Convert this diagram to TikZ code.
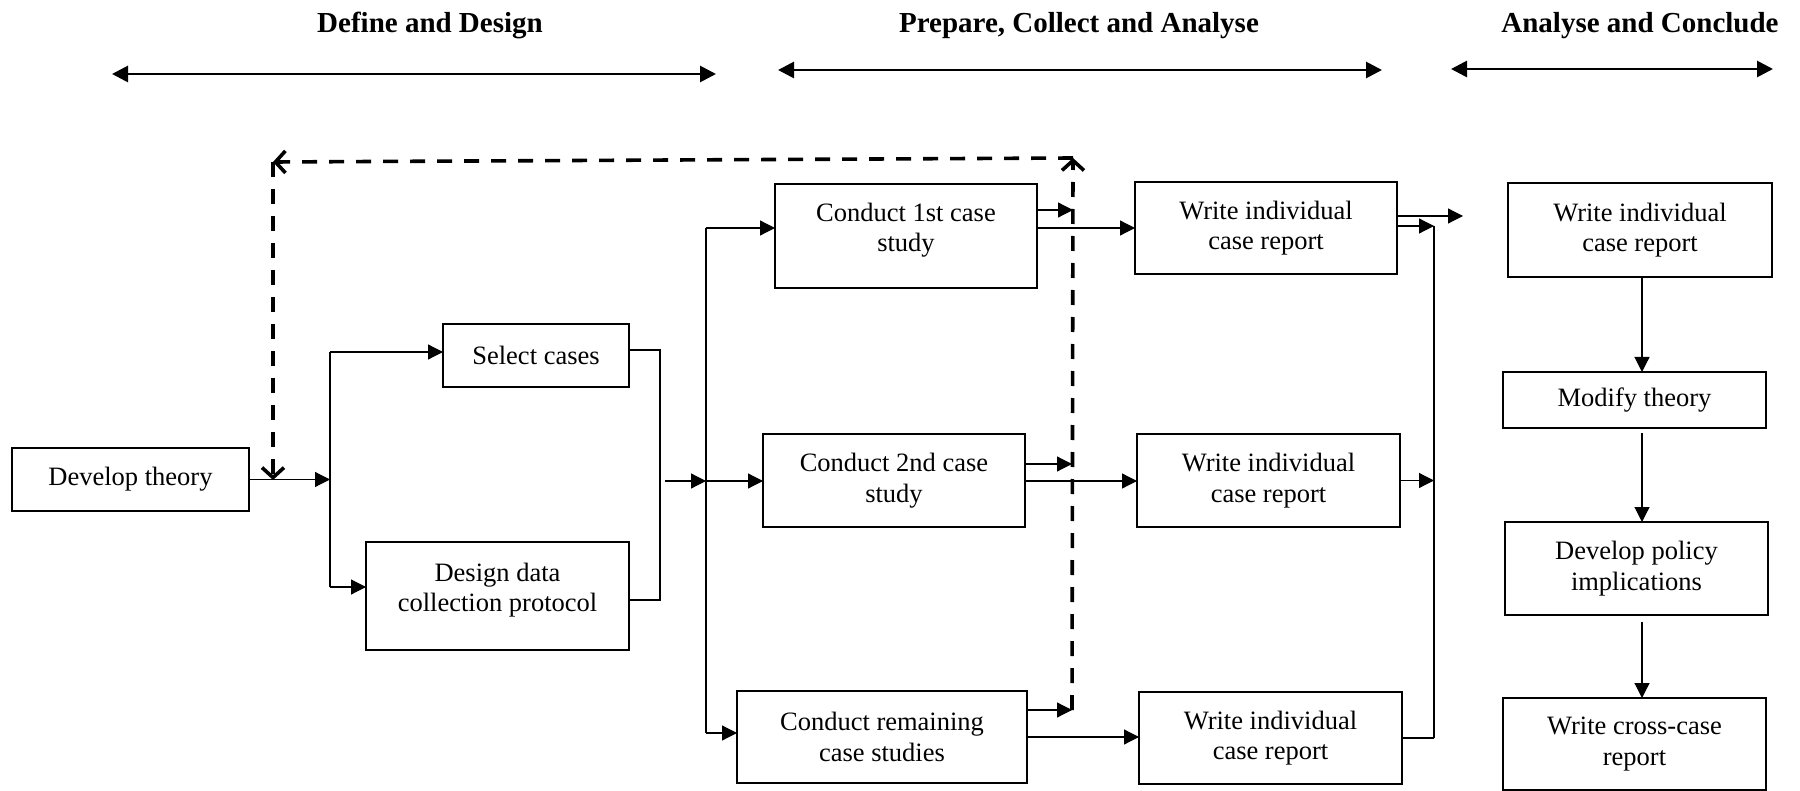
\documentclass[tikz,border=0pt]{standalone}
\usepackage{fontspec}
\setmainfont{Liberation Serif}
\usetikzlibrary{arrows.meta,calc}
\begin{document}
\begin{tikzpicture}[x=0.5pt,y=-0.5pt,
  box/.style={draw, line width=0.75pt, inner sep=0pt, outer sep=0pt,
    align=center, font=\fontsize{13.25}{15.3}\selectfont},
  lbl/.style={inner sep=0pt, align=center, font=\fontsize{13.25}{15.3}\selectfont},
  conn/.style={line width=0.6pt},
  arr/.style={conn, -{Triangle[length=7.5pt,width=7.5pt]}},
  phase/.style={line width=1.4pt,
    {Triangle[length=8pt,width=8pt]}-{Triangle[length=8pt,width=8pt]}},
  loopline/.style={line width=1.8pt, dash pattern=on 7.5pt off 6pt,
    -{Straight Barb[length=5pt,width=11pt]}},
  title/.style={font=\fontsize{14.5}{17}\selectfont\bfseries, inner sep=0pt, anchor=base}
]
\useasboundingbox (0,0) rectangle (1800,791);

% phase headings and their spans
\node[title] (tDefine) at (430,33) {Define and Design};
\node[title] (tPrepare) at (1079,33) {Prepare, Collect and Analyse};
\node[title] (tConclude) at (1640,33) {Analyse and Conclude};
\coordinate (pA1) at (112,74);  \coordinate (pA2) at (716,74);
\coordinate (pB1) at (778,70);  \coordinate (pB2) at (1382,70);
\coordinate (pC1) at (1451,69); \coordinate (pC2) at (1773,69);
\draw[phase] (pA1) -- (pA2);
\draw[phase] (pB1) -- (pB2);
\draw[phase] (pC1) -- (pC2);

% define and design
\node[box, minimum width=118.5pt, minimum height=31.5pt] (dev) at (130.5,479.5) {Develop theory};
\node[box, minimum width=93pt, minimum height=31.5pt] (sel) at (536,355.5) {Select cases};
\node[box, minimum width=131.5pt, minimum height=54pt] (des) at (497.5,596) {};
\node[lbl] (desT) at ([yshift=3pt]des.center) {Design data\\collection protocol};

% case studies
\node[box, minimum width=131pt, minimum height=52pt] (c1) at (906,236) {};
\node[lbl] (c1T) at ([yshift=3pt]c1.center) {Conduct 1st case\\study};
\node[box, minimum width=131pt, minimum height=46.5pt] (c2) at (894,480.5) {Conduct 2nd case\\study};
\node[box, minimum width=145pt, minimum height=46pt] (cr) at (882,737) {Conduct remaining\\case studies};

% individual reports
\node[box, minimum width=131pt, minimum height=46pt] (w1) at (1266,228) {Write individual\\case report};
\node[box, minimum width=131.5pt, minimum height=46.5pt] (w2) at (1268.5,480.5) {Write individual\\case report};
\node[box, minimum width=131.5pt, minimum height=46pt] (w3) at (1270.5,738) {Write individual\\case report};

% conclusion column
\node[box, minimum width=132pt, minimum height=47pt] (rw) at (1640,230) {Write individual\\case report};
\node[box, minimum width=131.5pt, minimum height=28pt] (mt) at (1634.5,400) {Modify theory};
\node[box, minimum width=131.5pt, minimum height=46.5pt] (dp) at (1636.5,568.5) {Develop policy\\implications};
\node[box, minimum width=131.5pt, minimum height=46pt] (cc) at (1634.5,744) {Write cross-case\\report};

% develop theory splits into case selection and protocol design
\coordinate (j1) at (330,480);
\coordinate (j1t) at (330,352);
\coordinate (j1b) at (330,587);
\draw[arr] (dev.east) -- (dev.east -| j1);
\draw[conn] (j1t) -- (j1b);
\draw[arr] (j1t) -- (j1t -| sel.west);
\draw[arr] (j1b) -- (j1b -| des.west);

% both join again
\coordinate (bT) at (660,350);
\coordinate (bB) at (660,600);
\draw[conn] (bT -| sel.east) -- (bT) -- (bB) -- (bB -| des.east);

% fan out to the case studies
\coordinate (j2s) at (665,481);
\coordinate (j2) at (706,481);
\coordinate (j2t) at (706,228);
\coordinate (j2b) at (706,733);
\draw[arr] (j2s) -- (j2);
\draw[conn] (j2t) -- (j2b);
\draw[arr] (j2t) -- (j2t -| c1.west);
\draw[arr] (j2) -- (j2 -| c2.west);
\draw[arr] (j2b) -- (j2b -| cr.west);

% case studies to their reports
\draw[arr] (j2t -| c1.east) -- (j2t -| w1.west);
\draw[arr] (j2 -| c2.east) -- (j2 -| w2.west);
\draw[arr] (cr.east) -- (cr.east -| w3.west);

% feedback into the dashed loop
\coordinate (s1) at (1073,210);
\coordinate (s2) at (1072,464);
\coordinate (s3) at (1072,710);
\draw[arr] (s1 -| c1.east) -- (s1);
\draw[arr] (s2 -| c2.east) -- (s2);
\draw[arr] (s3 -| cr.east) -- (s3);

% dashed loop back to theory
\coordinate (dTR) at (1073,158);
\coordinate (dTL) at (273,162);
\coordinate (dEnd) at (273,480);
\draw[loopline] (s3) -- (dTR);
\draw[loopline] (dTR) -- (dTL);
\draw[loopline] (dTL) -- (dEnd);

% reports gathered
\coordinate (o1) at (1463,216);
\coordinate (j3t) at (1434,226);
\coordinate (j3b) at (1434,738);
\draw[arr] (o1 -| w1.east) -- (o1);
\draw[arr] (j3t -| w1.east) -- (j3t);
\draw[conn] (j3t) -- (j3b);
\draw[arr] (w2.east) -- (w2.east -| j3t);
\draw[conn] (w3.east) -- (w3.east -| j3b);

% conclusion chain
\coordinate (ax) at (1642,0);
\draw[arr] (rw.south -| ax) -- (mt.north -| ax);
\draw[arr, shorten <=2.5pt] (mt.south -| ax) -- (dp.north -| ax);
\draw[arr, shorten <=3.5pt] (dp.south -| ax) -- (cc.north -| ax);
\end{tikzpicture}
\end{document}
